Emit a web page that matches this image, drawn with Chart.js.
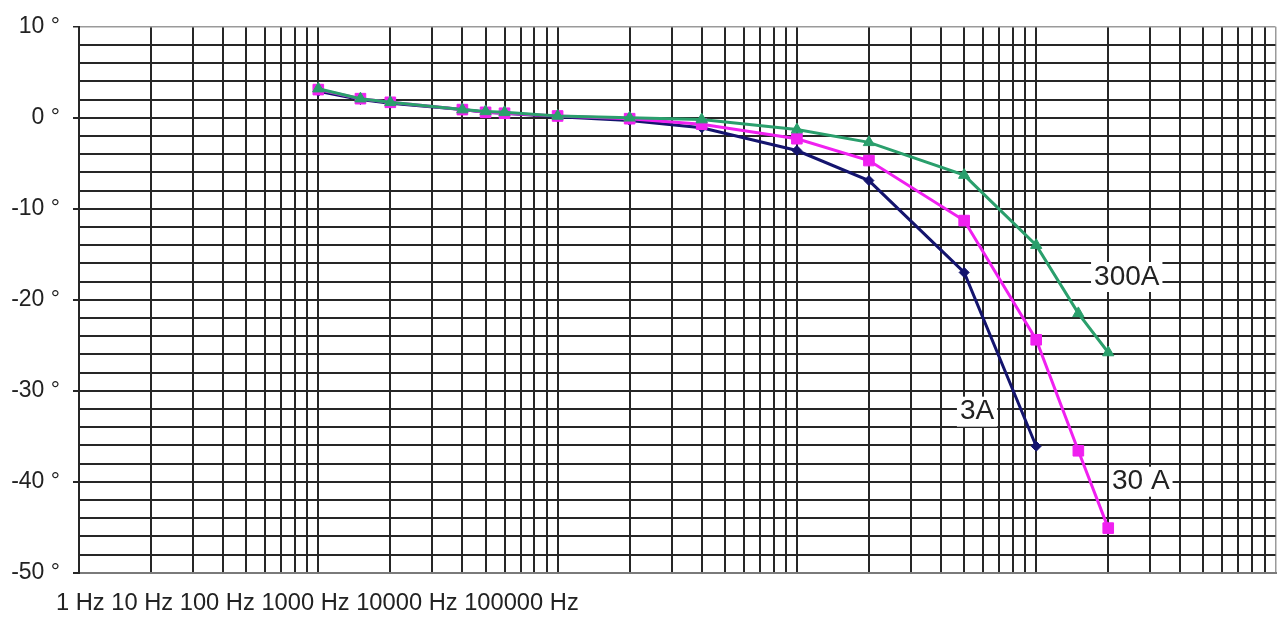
<!DOCTYPE html>
<html>
<head>
<meta charset="utf-8">
<title>Phase response</title>
<script src="https://cdn.jsdelivr.net/npm/chart.js@4.4.1/dist/chart.umd.min.js"></script>
<style>
  html, body { margin: 0; padding: 0; background: #fff; }
  canvas { display: block; }
</style>
</head>
<body>
<canvas id="phase_chart" width="1284" height="617"></canvas>
<script>
// measured frequencies (Hz) and phase error (degrees) per current range
var freqs = [10, 15, 20, 40, 50, 60, 100, 200, 400, 1000, 2000, 5000, 10000, 15000, 20000];
var phase_3a = [2.9, 2.0, 1.6, 0.9, 0.6, 0.5, 0.1, -0.3, -1.1, -3.6, -6.9, -17.0, -36.1];
var phase_30a = [3.1, 2.1, 1.7, 0.9, 0.6, 0.5, 0.2, -0.1, -0.7, -2.3, -4.7, -11.3, -24.4, -36.6, -45.1];
var phase_300a = [3.2, 2.1, 1.7, 0.9, 0.7, 0.6, 0.2, 0.0, -0.2, -1.3, -2.7, -6.3, -14.0, -21.5, -25.8];
var series_names = ['3A', '30 A', '300A'];

var freq_tick_labels = ['1 Hz', '10 Hz', '100 Hz', '1000 Hz', '10000 Hz', '100000 Hz'];
var deg_tick_values = [10, 0, -10, -20, -30, -40, -50];

// where the curve names sit (in chart units)
var label_freqs = [5660, 27350, 23900];
var label_degs = [-32.3, -40.0, -17.5];

var FONT = '"Liberation Sans", Arial, sans-serif';
var GRID = '#262626';
var EDGE = '#9a9a9a';

function toPoints(values)
{
    var pts = [];
    for (var i = 0; i < values.length; i++) {
        pts.push({x: freqs[i], y: values[i]});
    }
    return pts;
}

// log grid: 1..9 of every decade, 1 Hz to 100 kHz
var grid_freqs = [];
for (var d = 1; d < 100000; d *= 10) {
    for (var k = 1; k < 10; k++) grid_freqs.push(k * d);
}
grid_freqs.push(100000);

var curveLabels = {
    id: 'curve_labels',
    afterDatasetsDraw: function(chart) {
        var ctx = chart.ctx;
        var xs = chart.scales.x;
        var ys = chart.scales.y;
        ctx.save();
        ctx.font = '28px ' + FONT;
        ctx.textAlign = 'center';
        ctx.textBaseline = 'middle';
        for (var i = 0; i < series_names.length; i++) {
            var px = xs.getPixelForValue(label_freqs[i]);
            var py = ys.getPixelForValue(label_degs[i]);
            var w = ctx.measureText(series_names[i]).width;
            ctx.fillStyle = '#fff';
            ctx.fillRect(px - w / 2 - 3, py - 15, w + 6, 30);
            ctx.fillStyle = '#222';
            ctx.fillText(series_names[i], px, py);
        }
        // the frequency labels all sit in one run under the left corner
        ctx.font = '23.7px ' + FONT;
        ctx.textAlign = 'left';
        ctx.fillText(freq_tick_labels.join(' '), chart.chartArea.left - 23, chart.chartArea.bottom + 31);
        ctx.restore();
    }
};

var ctx = document.getElementById('phase_chart').getContext('2d');
var chart = new Chart(ctx, {
    type: 'line',
    data: {
        datasets: [
            {
                label: series_names[0],
                data: toPoints(phase_3a),
                order: 3,
                borderColor: '#14146e',
                backgroundColor: '#14146e',
                borderWidth: 3,
                pointStyle: 'rectRot',
                pointRadius: 5,
                pointBorderWidth: 1
            },
            {
                label: series_names[1],
                data: toPoints(phase_30a),
                order: 2,
                borderColor: '#f020f0',
                backgroundColor: '#f020f0',
                borderWidth: 3,
                pointStyle: 'rect',
                pointRadius: 7.5,
                pointBorderWidth: 1
            },
            {
                label: series_names[2],
                data: toPoints(phase_300a),
                order: 1,
                borderColor: '#2a9f6c',
                backgroundColor: '#2a9f6c',
                borderWidth: 3,
                pointStyle: 'triangle',
                pointRadius: 6.5,
                pointBorderWidth: 1
            }
        ]
    },
    options: {
        responsive: false,
        animation: false,
        devicePixelRatio: 1,
        layout: { padding: { top: 23, right: 6, left: 0, bottom: 0 } },
        elements: { line: { tension: 0, fill: false } },
        plugins: {
            legend: { display: false },
            tooltip: { enabled: false }
        },
        scales: {
            x: {
                type: 'logarithmic',
                min: 1,
                max: 100000,
                afterBuildTicks: function(scale) {
                    scale.ticks = grid_freqs.map(function(v) { return {value: v}; });
                },
                afterFit: function(scale) { scale.height = 44.3; },
                ticks: { display: false, autoSkip: false },
                grid: {
                    drawTicks: false,
                    color: function(c) { return c.tick && c.tick.value === 100000 ? EDGE : GRID; },
                    lineWidth: function(c) { return c.tick && c.tick.value === 100000 ? 1.5 : 2; }
                },
                border: { display: true, color: '#7a7a7a', width: 2 }
            },
            y: {
                min: -50,
                max: 10,
                afterFit: function(scale) { scale.width = 79; },
                ticks: {
                    stepSize: 2,
                    autoSkip: false,
                    padding: 13,
                    color: '#222',
                    font: { family: FONT, size: 23 },
                    callback: function(v) {
                        return deg_tick_values.indexOf(v) >= 0 ? v + ' °' : '';
                    }
                },
                grid: {
                    tickLength: 6,
                    color: function(c) { return c.tick && c.tick.value === 10 ? EDGE : GRID; },
                    lineWidth: function(c) { return c.tick && c.tick.value === 10 ? 1.5 : 2; },
                    tickColor: function(c) {
                        return c.tick && deg_tick_values.indexOf(c.tick.value) >= 0 ? GRID : 'rgba(0,0,0,0)';
                    }
                },
                border: { display: true, color: GRID, width: 2 }
            }
        }
    },
    plugins: [curveLabels]
});
</script>
</body>
</html>
